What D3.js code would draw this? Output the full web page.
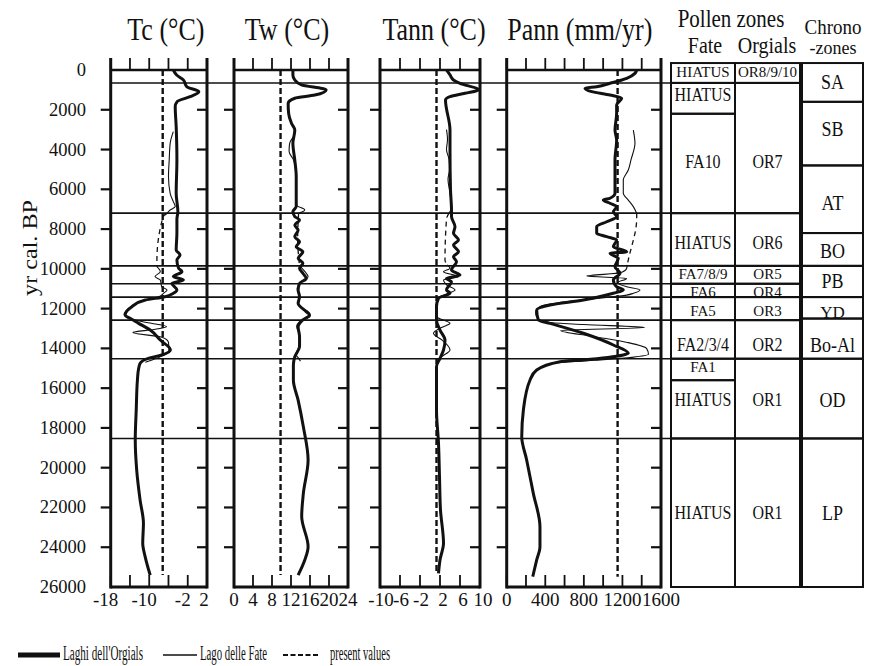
<!DOCTYPE html>
<html>
<head>
<meta charset="utf-8">
<script src="https://cdn.jsdelivr.net/npm/d3@7"></script>
<style>
  html, body { margin: 0; padding: 0; background: #fff; }
  svg { display: block; }
  text { font-family: "Liberation Serif", "Times New Roman", serif; fill: #111; }
</style>
</head>
<body>
<svg id="chart" width="869" height="666"></svg>
<script>
// ---------- data (age in yr cal. BP, value in panel units) ----------
const ageTicks = d3.range(0, 26001, 2000);

const tcTicks = [-18, -14, -10, -6, -2, 2];
const tcLabels = [-18, -10, -2, 2];
const twTicks = [0, 4, 8, 12, 16, 20, 24];
const twLabels = [0, 4, 8, 12, 16, 20, 24];
const tannTicks = [-10, -6, -2, 2, 6, 10];
const tannLabels = [-10, -6, -2, 2, 6, 10];
const pannTicks = d3.range(0, 1601, 200);
const pannLabels = [0, 400, 800, 1200, 1600];

const presentValues = { Tc: -7.2, Tw: 9.8, Tann: 1.3, Pann: 1150 };

// Laghi dell'Orgials
const tcOrgials = [[0,-5.0],[250,-4.3],[500,-2.9],[840,-2.2],[1090,0.3],[1340,-1.5],[1590,-4.2],[1840,-4.6],[2850,-4.4],[4530,-4.25],[6200,-4.4],[7125,-4.05],[7500,-4.25],[8200,-4.25],[9050,-4.4],[9300,-3.6],[9550,-4.25],[9970,-3.9],[10140,-3.2],[10390,-5.0],[10560,-2.9],[10730,-5.3],[11060,-4.25],[11230,-5.0],[11400,-6.7],[11570,-10.8],[11900,-13.6],[12320,-15.0],[12490,-14.0],[12740,-12.2],[13080,-9.8],[13580,-7.7],[14080,-5.6],[14330,-7.4],[14500,-10.2],[14750,-11.9],[15090,-12.25],[15590,-12.45],[17100,-12.7],[18600,-12.9],[20120,-12.6],[21620,-11.9],[22800,-11.2],[23800,-11.35],[24470,-10.85],[25400,-9.8]];
const twOrgials = [[0,12.4],[250,12.4],[500,12.8],[750,14.2],[1000,19.4],[1260,17.0],[1420,12.8],[1680,11.4],[2180,11.5],[2680,12.1],[3020,12.8],[3690,12.4],[4530,12.8],[5360,13.1],[6200,13.1],[6870,13.1],[7120,12.4],[7370,12.8],[7540,13.8],[7800,12.8],[8050,13.5],[8380,12.8],[8640,13.8],[8890,13.1],[9140,14.5],[9470,13.5],[9720,14.5],[9970,13.8],[10220,14.5],[10480,15.2],[10730,13.8],[11060,13.5],[11400,13.8],[11730,13.5],[12150,15.2],[12320,15.9],[12570,14.5],[12910,13.5],[13410,13.8],[13910,13.8],[14420,12.8],[14840,12.5],[15590,12.5],[16600,13.5],[17940,14.6],[19610,15.6],[21290,14.6],[22460,14.25],[23970,15.6],[24640,14.9],[25400,13.5]];
const tannOrgials = [[0,3.3],[250,4.0],[500,4.7],[670,6.0],[1000,9.7],[1170,7.0],[1340,4.0],[1510,3.1],[3020,4.0],[4020,4.0],[6030,4.1],[7040,4.3],[7370,4.3],[7880,5.0],[8210,4.7],[8550,5.7],[8800,4.7],[9140,5.7],[9390,4.7],[9640,5.3],[10060,4.3],[10310,6.0],[10480,3.3],[10650,4.3],[11060,3.3],[11230,4.0],[11480,1.7],[11900,1.3],[12570,1.3],[13080,2.0],[13580,3.0],[14080,2.7],[14500,2.0],[14920,1.3],[15420,1.3],[17100,1.3],[18770,1.7],[20450,1.9],[22130,2.1],[23800,2.7],[24640,2.0],[25310,1.7]];
const pannOrgials = [[0,1348],[170,1330],[420,1244],[670,1071],[840,933],[920,812],[1090,881],[1260,1071],[1420,1192],[1760,1140],[2180,1140],[3020,1123],[3520,1140],[4530,1123],[5360,1123],[6200,1123],[6450,1071],[6540,1002],[6700,1071],[6870,1140],[7130,1106],[7380,1140],[7630,1037],[7880,933],[8210,933],[8380,1037],[8550,1140],[8890,1106],[9140,1244],[9220,1071],[9470,1157],[9890,1123],[10220,1175],[10560,1106],[10900,1140],[11060,1209],[11230,1106],[11570,795],[11820,449],[12070,311],[12570,328],[12740,449],[13240,795],[13830,1106],[14250,1261],[14330,1209],[14580,795],[14670,553],[15090,311],[15590,242],[17100,173],[18440,156],[19610,207],[21290,276],[22970,345],[23970,345],[24640,311],[25480,270]];

// Lago delle Fate: FA10 section, hiatus link, late-glacial section
const tcFateHolocene = [[3100,-5.0],[3690,-5.65],[4530,-5.85],[5360,-6.0],[6200,-5.65],[6620,-5.0],[6870,-4.6],[7040,-5.65],[7210,-6.3]];
const tcFateHiatus = [[7210,-6.3],[7370,-7.1],[9550,-8.4],[9890,-8.4]];
const tcFateLate = [[9890,-8.4],[10140,-7.7],[10390,-8.8],[10560,-7.7],[10900,-7.4],[11060,-6.3],[11230,-7.05],[11400,-8.0],[11600,-11.5],[11900,-13.8],[12300,-15.2],[12500,-14.0],[12700,-10.5],[12900,-6.4],[13050,-9.0],[13200,-13.4],[13450,-7.2],[13700,-6.0],[14100,-5.9],[14300,-6.6],[14500,-8.5],[14700,-10.8]];
const twFateHolocene = [[3000,12.8],[3300,12.6],[3700,11.7],[4100,11.6],[4500,12.5],[5000,13.0],[6200,13.1],[6800,13.2],[7040,14.9],[7200,13.6]];
const twFateHiatus = [[7200,13.6],[8500,13.4],[9850,13.8]];
const twFateLate = [[9850,13.8],[10100,14.8],[10400,15.6],[10700,14.0],[11000,13.3],[11400,13.8],[11800,13.6],[12200,15.8],[12400,16.0],[12600,14.2],[12900,13.2],[13400,13.9],[13900,13.7],[14300,13.0],[14500,13.6],[14650,14.0]];
const tannFateHolocene = [[3000,3.3],[3500,3.5],[4000,3.3],[4500,3.8],[5000,3.9],[5500,3.6],[6200,4.0],[6900,4.3],[7200,3.8]];
const tannFateHiatus = [[7200,3.8],[7500,3.3],[9550,3.0],[9800,3.4]];
const tannFateLate = [[9800,3.4],[9970,4.0],[10150,2.7],[10400,5.7],[10560,2.7],[10800,3.3],[11060,5.0],[11230,3.7],[11400,2.0],[11600,1.3],[12000,1.2],[12400,1.3],[12740,4.0],[12950,2.3],[13240,0.7],[13600,2.5],[14080,4.0],[14420,2.3],[14600,1.5]];
const pannFateHolocene = [[3020,1313],[3690,1330],[4500,1290],[5030,1261],[5530,1209],[6200,1209],[6540,1261],[6870,1313],[7210,1348]];
const pannFateHiatus = [[7210,1348],[7460,1348],[9550,1261],[9800,1250]];
const pannFateLate = [[9800,1250],[9970,1244],[10200,1180],[10360,830],[10480,1244],[10700,1150],[10900,1244],[11060,1382],[11230,1313],[11320,1244],[11500,900],[11700,550],[11900,345],[12200,300],[12500,320],[12700,450],[12800,800],[12950,1430],[13100,560],[13400,900],[13700,1250],[14000,1450],[14300,1470],[14450,1300],[14600,900],[14750,450]];

// zone boundaries (ages) shared by all panels
const zoneLines = [650, 7200, 9850, 10750, 11420, 12580, 14520, 18530];

// pollen zones and chronozones
const tableTop = -350;
const fateBounds = [tableTop, 650, 2200, 7200, 9850, 10750, 11420, 12580, 14520, 15600, 18530, 26000];
const fateZones = ["HIATUS", "HIATUS", "FA10", "HIATUS", "FA7/8/9", "FA6", "FA5", "FA2/3/4", "FA1", "HIATUS", "HIATUS"];
const fateLabelAges = [85, 1260, 4630, 8700, 10280, 11150, 12120, 13830, 14960, 16600, 22280];
const orgialsBounds = [tableTop, 650, 7200, 9850, 10750, 11420, 12580, 14520, 18530, 26000];
const orgialsZones = ["OR8/9/10", "OR7", "OR6", "OR5", "OR4", "OR3", "OR2", "OR1", "OR1"];
const orgialsLabelAges = [85, 4630, 8700, 10280, 11150, 12120, 13830, 16600, 22280];
const chronoBounds = [tableTop, 1600, 4800, 8200, 9850, 11420, 12500, 14520, 18530, 26000];
const chronoZones = ["SA", "SB", "AT", "BO", "PB", "YD", "Bo-Al", "OD", "LP"];
const chronoLabelAges = [630, 2970, 6690, 9130, 10640, 12200, 13830, 16600, 22280];

const legendItems = ["Laghi dell'Orgials", "Lago delle Fate", "present values"];

// ---------- layout ----------
const svg = d3.select("#chart");
const plotTop = 70, plotBottom = 587;
const y = d3.scaleLinear().domain([0, 26000]).range([plotTop, plotBottom]);

const panels = [
  { key: "Tc",   title: "Tc (°C)",      x0: 110.7, x1: 207,  titleDx: 7,  labelDx: -3,
    domain: [-18, 2], ticks: tcTicks, labels: tcLabels, orgials: tcOrgials,
    fate: [tcFateHolocene, tcFateLate], fateHiatus: tcFateHiatus },
  { key: "Tw",   title: "Tw (°C)",      x0: 234,   x1: 348,  titleDx: -4, labelDx: 0,
    domain: [0, 24], ticks: twTicks, labels: twLabels, orgials: twOrgials,
    fate: [twFateHolocene, twFateLate], fateHiatus: twFateHiatus },
  { key: "Tann", title: "Tann (°C)",    x0: 380,   x1: 480,  titleDx: 4,  labelDx: 3,
    domain: [-10, 10], ticks: tannTicks, labels: tannLabels, orgials: tannOrgials,
    fate: [tannFateHolocene, tannFateLate], fateHiatus: tannFateHiatus },
  { key: "Pann", title: "Pann (mm/yr)", x0: 506.7, x1: 661,  titleDx: -4, labelDx: 0,
    domain: [0, 1600], ticks: pannTicks, labels: pannLabels, orgials: pannOrgials,
    fate: [pannFateHolocene, pannFateLate], fateHiatus: pannFateHiatus }
];

const tableCols = [
  { x0: 671, x1: 735, bounds: fateBounds,    names: fateZones,    at: fateLabelAges,    size: 16 },
  { x0: 735, x1: 800, bounds: orgialsBounds, names: orgialsZones, at: orgialsLabelAges, size: 16 },
  { x0: 802, x1: 863, bounds: chronoBounds,  names: chronoZones,  at: chronoLabelAges,  size: 18 }
];

// text that is taller than its regular proportions
function label(g, x, yy, str, size, anchor, sy, len) {
  const t = g.append("text")
    .attr("transform", `translate(${x},${yy}) scale(1,${sy})`)
    .attr("font-size", size)
    .attr("text-anchor", anchor)
    .text(str);
  if (len) t.attr("textLength", len).attr("lengthAdjust", "spacingAndGlyphs");
  return t;
}

// ---------- zone boundary lines across all panels ----------
const tableLeft = tableCols[0].x0;
svg.append("g").selectAll("line").data(zoneLines).join("line")
  .attr("x1", panels[0].x0).attr("x2", tableLeft)
  .attr("y1", d => y(d)).attr("y2", d => y(d))
  .attr("stroke", "#111").attr("stroke-width", 1.6);

// ---------- y-axis labels ----------
const yLab = svg.append("g");
yLab.selectAll("text").data(ageTicks).join("text")
  .attr("x", 86).attr("y", d => y(d) + 6)
  .attr("text-anchor", "end").attr("font-size", 18.5)
  .text(d => d);
svg.append("text")
  .attr("transform", "translate(37,248) rotate(-90) scale(1.15,1)")
  .attr("text-anchor", "middle").attr("font-size", 21)
  .text("yr cal. BP");

// ---------- panels ----------
const lineGen = (x) => d3.line().x(d => x(d[1])).y(d => y(d[0])).curve(d3.curveMonotoneY);

panels.forEach(p => {
  const x = d3.scaleLinear().domain(p.domain).range([p.x0, p.x1]);
  const g = svg.append("g");
  const tickLen = 12, sideTick = 10;

  // title
  label(g, (p.x0 + p.x1) / 2 + p.titleDx, 40, p.title, 26, "middle", 1.22);

  // frame
  g.append("line").attr("x1", p.x0).attr("x2", p.x1).attr("y1", plotTop).attr("y2", plotTop)
    .attr("stroke", "#111").attr("stroke-width", 2.4);
  g.append("line").attr("x1", p.x0).attr("x2", p.x1).attr("y1", plotBottom).attr("y2", plotBottom)
    .attr("stroke", "#111").attr("stroke-width", 3);
  [p.x0, p.x1].forEach(xx => g.append("line")
    .attr("x1", xx).attr("x2", xx).attr("y1", plotTop - tickLen).attr("y2", plotBottom + 1.5)
    .attr("stroke", "#111").attr("stroke-width", 3));

  // top ticks (outward) and bottom ticks (inward)
  g.append("g").selectAll("line").data(p.ticks).join("line")
    .attr("x1", d => x(d)).attr("x2", d => x(d))
    .attr("y1", plotTop - tickLen).attr("y2", plotTop)
    .attr("stroke", "#111").attr("stroke-width", 1.8);
  g.append("g").selectAll("line").data(p.ticks).join("line")
    .attr("x1", d => x(d)).attr("x2", d => x(d))
    .attr("y1", plotBottom - tickLen).attr("y2", plotBottom)
    .attr("stroke", "#111").attr("stroke-width", 1.8);

  // age ticks: left edge outward, right edge inward
  const inner = ageTicks.filter(a => a > 0 && a < 26000);
  g.append("g").selectAll("line").data(inner).join("line")
    .attr("x1", p.x0 - sideTick).attr("x2", p.x0)
    .attr("y1", d => y(d)).attr("y2", d => y(d))
    .attr("stroke", "#111").attr("stroke-width", 2.2);
  g.append("g").selectAll("line").data(inner).join("line")
    .attr("x1", p.x1 - sideTick).attr("x2", p.x1)
    .attr("y1", d => y(d)).attr("y2", d => y(d))
    .attr("stroke", "#111").attr("stroke-width", 2.2);

  // bottom labels
  g.append("g").selectAll("text").data(p.labels).join("text")
    .attr("x", d => x(d) + (d < 0 ? p.labelDx - 2 : p.labelDx))
    .attr("y", 606).attr("text-anchor", "middle").attr("font-size", 19)
    .text(d => d);

  // present value
  const ext = d3.extent(p.orgials, d => d[0]);
  g.append("line")
    .attr("x1", x(presentValues[p.key])).attr("x2", x(presentValues[p.key]))
    .attr("y1", y(ext[0])).attr("y2", y(ext[1]))
    .attr("stroke", "#111").attr("stroke-width", 2.4).attr("stroke-dasharray", "6,3");

  // Lago delle Fate
  const line = lineGen(x);
  p.fate.forEach(seg => g.append("path").attr("d", line(seg))
    .attr("fill", "none").attr("stroke", "#111").attr("stroke-width", 1.1));
  g.append("path").attr("d", line(p.fateHiatus))
    .attr("fill", "none").attr("stroke", "#111").attr("stroke-width", 1.3)
    .attr("stroke-dasharray", "5,4");

  // Laghi dell'Orgials
  g.append("path").attr("d", line(p.orgials))
    .attr("fill", "none").attr("stroke", "#111").attr("stroke-width", 3)
    .attr("stroke-linejoin", "round");
});

// ---------- zone table ----------
const tg = svg.append("g");
label(tg, 731, 27, "Pollen zones", 21, "middle", 1.2);
label(tg, 705, 53, "Fate", 20, "middle", 1.15);
label(tg, 767, 53, "Orgials", 20, "middle", 1.15);
label(tg, 833, 33.5, "Chrono", 19, "middle", 1.1);
label(tg, 833, 54, "-zones", 18, "middle", 1.0);

tableCols.forEach(c => {
  const zones = c.names.map((n, i) => ({ name: n, a0: c.bounds[i], a1: c.bounds[i + 1], at: c.at[i] }));
  tg.append("g").selectAll("rect").data(zones).join("rect")
    .attr("x", c.x0).attr("width", c.x1 - c.x0)
    .attr("y", d => y(d.a0)).attr("height", d => y(d.a1) - y(d.a0))
    .attr("fill", "none").attr("stroke", "#111").attr("stroke-width", 2);
  zones.forEach(d => {
    // narrow cells get a slightly smaller, unstretched label
    const narrow = y(d.a1) - y(d.a0) < 24;
    const size = narrow ? c.size - 1 : c.size;
    const sy = narrow ? 1.0 : 1.15;
    const cap = size * 0.66 * sy;
    label(tg, (c.x0 + c.x1) / 2, y(d.at) + cap / 2, d.name, size, "middle", sy);
  });
});

// ---------- legend ----------
const lg = svg.append("g");
const ly = 655;
lg.append("line").attr("x1", 18).attr("x2", 60).attr("y1", ly).attr("y2", ly)
  .attr("stroke", "#111").attr("stroke-width", 5);
label(lg, 63, ly + 5, legendItems[0], 16, "start", 1.35, 80);
lg.append("line").attr("x1", 163).attr("x2", 197).attr("y1", ly).attr("y2", ly)
  .attr("stroke", "#111").attr("stroke-width", 1.4);
label(lg, 200, ly + 5, legendItems[1], 16, "start", 1.35, 67);
lg.append("line").attr("x1", 283).attr("x2", 320).attr("y1", ly).attr("y2", ly)
  .attr("stroke", "#111").attr("stroke-width", 2.2).attr("stroke-dasharray", "5,2.5");
label(lg, 330, ly + 5, legendItems[2], 16, "start", 1.35, 60);
</script>
</body>
</html>
